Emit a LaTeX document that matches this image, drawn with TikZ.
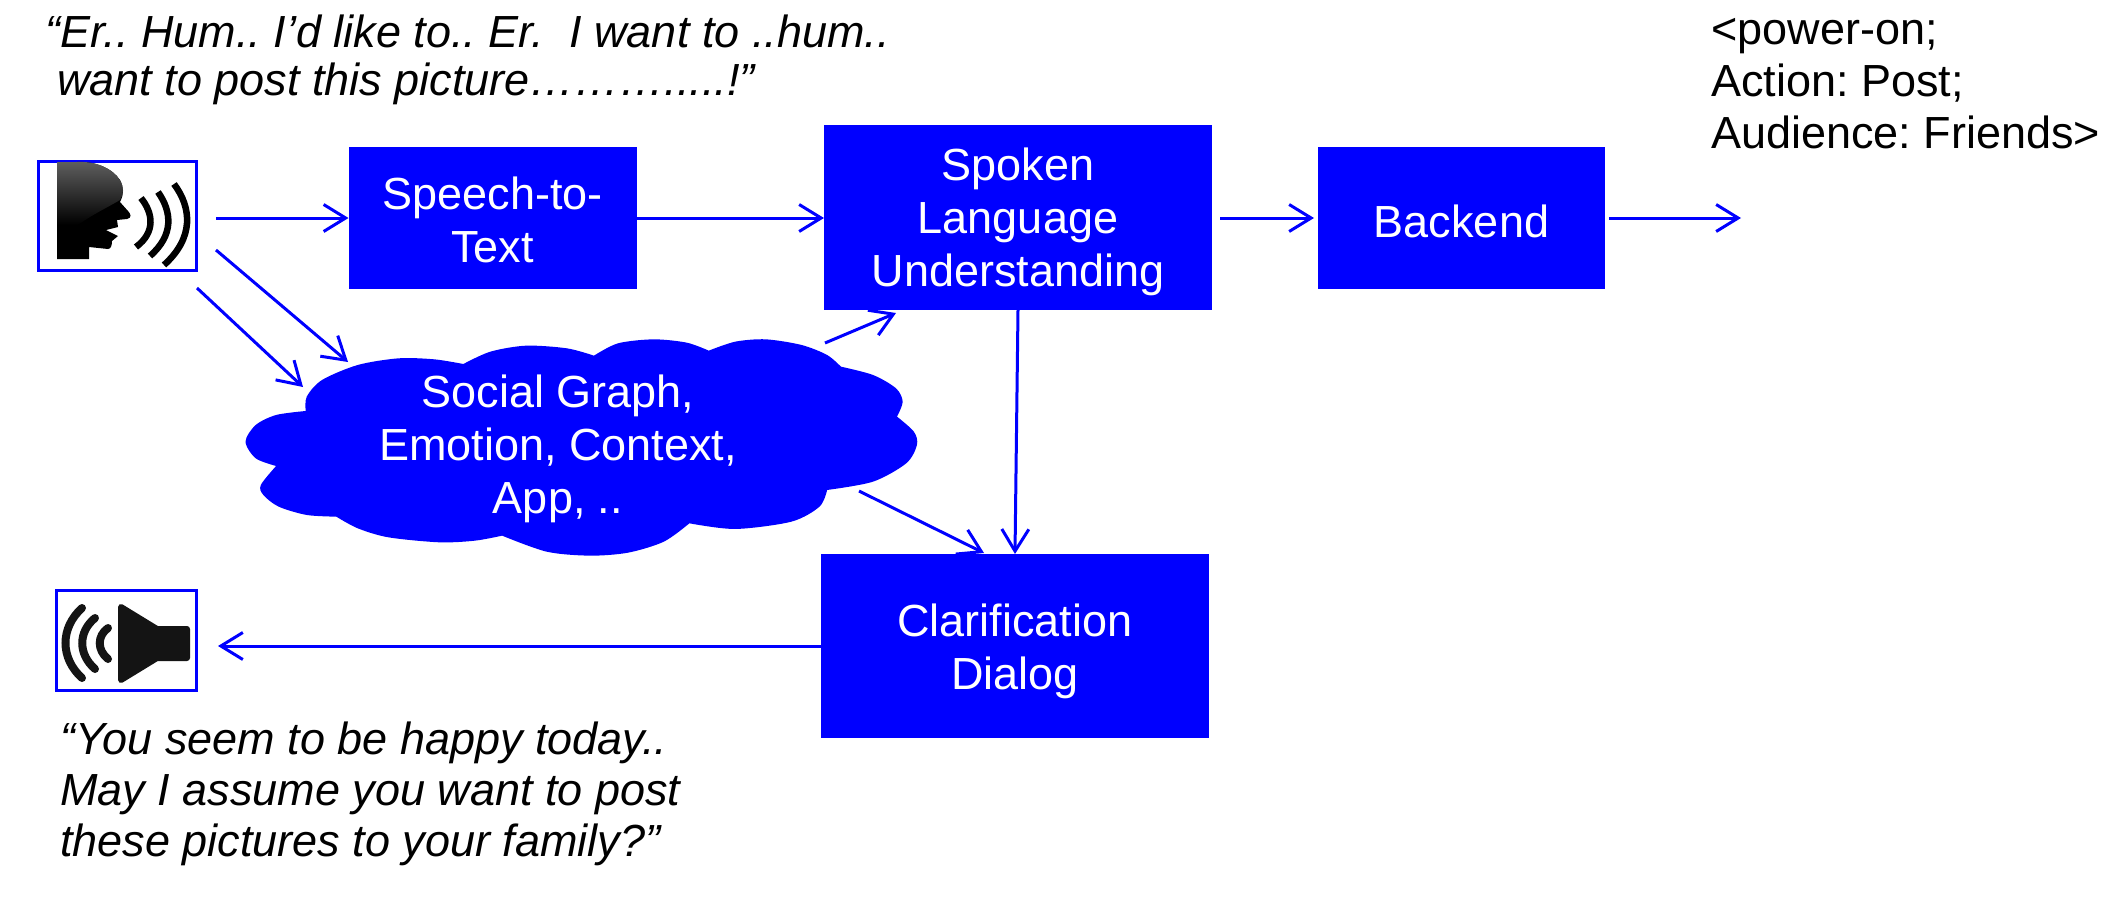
\documentclass[tikz,border=0pt]{standalone}
\usepackage{fontspec}
\setmainfont{Liberation Sans}
\usetikzlibrary{arrows.meta,calc}
\definecolor{bl}{RGB}{0,0,255}
\newcommand{\dn}[1]{\rule{0pt}{\dimexpr34pt+2\dimexpr#1pt\relax\relax}}
\tikzset{
  x=1pt,y=-1pt,
  every node/.style={font=\fontsize{45}{53}\selectfont\frenchspacing},
  blockbox/.style={fill=bl,text=white,align=center,inner sep=0pt,outer sep=0pt},
  iconbox/.style={draw=bl,line width=3pt,fill=white,inner sep=0pt,outer sep=1.5pt},
  conn/.style={draw=bl,line width=3pt,-{Straight Barb[length=22pt,width=27pt,line width=3pt]}},
  quote/.style={anchor=north west,align=left,inner sep=0pt,font=\fontsize{45}{47.5}\selectfont\itshape\frenchspacing},
  quotetwo/.style={anchor=north west,align=left,inner sep=0pt,font=\fontsize{45}{51}\selectfont\itshape\frenchspacing},
  plain/.style={anchor=north west,align=left,inner sep=0pt,font=\fontsize{45}{52}\selectfont\frenchspacing},
  wave/.style={draw=black,line width=6.5pt},
  wavetwo/.style={draw=black!92,line width=8pt,line cap=round},
}
\begin{document}
\begin{tikzpicture}
\useasboundingbox (0,0) rectangle (2128,897);
% blocks
\node[blockbox,minimum width=288pt,minimum height=142pt] (stt) at (492.5,218) {\dn{1.5}Speech-to-\\Text};
\node[blockbox,minimum width=388pt,minimum height=185pt] (slu) at (1018,217.5) {\dn{4}Spoken\\Language\\Understanding};
\node[blockbox,minimum width=287pt,minimum height=142pt] (be) at (1461.5,218) {\dn{2.5}Backend};
\node[blockbox,minimum width=388pt,minimum height=184pt] (cd) at (1015,646) {\dn{5}Clarification\\Dialog};
% icon frames
\node[iconbox,minimum width=158pt,minimum height=109pt] (talk) at (117.5,216) {};
\node[iconbox,minimum width=140pt,minimum height=100pt] (spk) at (126.5,640.5) {};
% talking head
\path[fill=black] (57,162) -- (57,259) -- (89,259) -- (89,247) -- (108,249)
  .. controls (111,249) and (112,245) .. (112,241) -- (118,236) -- (106,230) -- (118,227)
  -- (117,220) -- (127,219) .. controls (132,218) and (131,214) .. (128,211) -- (120,202)
  .. controls (124,194) and (124,188) .. (120,180) .. controls (112,168) and (95,161) .. (77,162) -- cycle;
\begin{scope}
\clip (57,162) -- (57,245) .. controls (75,222) and (100,212) .. (120,200)
  .. controls (124,194) and (124,188) .. (120,180) .. controls (112,168) and (95,161) .. (77,162) -- cycle;
\shade[top color=black!62,bottom color=black] (55,160) rectangle (125,225);
\end{scope}
\draw[wave] (141,198) .. controls (153,213) and (156,232) .. (136,247);
\draw[wave] (158,192) .. controls (172,212) and (174,235) .. (150,256);
\draw[wave] (174,184) .. controls (192,208) and (194,238) .. (164,265);
% loudspeaker
\path[fill=black!92,draw=black!92,line width=6pt,line join=round]
  (121,607) -- (157,629) -- (187,629) -- (187,658) -- (157,658) -- (121,680) -- cycle;
\draw[wavetwo] (82,608) .. controls (60,628) and (60,658) .. (82,678);
\draw[wavetwo] (95,618) .. controls (78,632) and (78,654) .. (95,669);
\draw[wavetwo] (108,628) .. controls (97,636) and (97,650) .. (108,659);
% cloud
\begin{scope}[shift={(220,300)},x=0.5102pt,y=-0.3333pt]
\path[fill=bl]
  plot[smooth] coordinates {(168,333) (170,290) (200,240) (270,195) (350,175) (420,178) (477,192)}
  -- plot[smooth] coordinates {(477,192) (530,155) (600,137) (680,145) (733,167)}
  -- plot[smooth] coordinates {(733,167) (780,130) (850,118) (915,128) (958,152)}
  -- plot[smooth] coordinates {(958,152) (1010,125) (1070,118) (1140,135) (1190,165) (1217,200)}
  -- plot[smooth] coordinates {(1217,200) (1280,225) (1325,265) (1338,305) (1327,350)}
  -- plot[smooth] coordinates {(1327,350) (1360,395) (1366,435) (1345,490) (1280,545) (1190,570)}
  -- plot[smooth] coordinates {(1190,570) (1175,620) (1120,665) (1010,687) (920,670)}
  -- plot[smooth] coordinates {(920,670) (870,725) (800,758) (725,767) (640,755) (553,707)}
  -- plot[smooth] coordinates {(553,707) (500,722) (430,727) (330,712) (270,685) (228,650)}
  -- plot[smooth] coordinates {(228,650) (170,645) (115,620) (85,585) (80,555) (110,498)}
  -- plot[smooth] coordinates {(110,498) (70,475) (50,425) (70,375) (110,345) (168,333)}
  -- cycle;
\end{scope}
\node[blockbox,fill=none,minimum width=672pt,minimum height=217pt] (cloud) at (558,446) {\dn{2.5}Social Graph,\\Emotion, Context,\\App, ..};
% free ends of connectors
\coordinate (ta) at (216,250);
\coordinate (tb) at (197,288);
\coordinate (ca) at (348,362);
\coordinate (cb) at (303,387);
\coordinate (cc) at (825,343);
\coordinate (cd1) at (896,313);
\coordinate (ce) at (859,491);
\coordinate (cf) at (984,553);
\coordinate (out) at (1741,218);
% connectors
\draw[conn,shorten <=18pt] (talk.east |- stt.west) -- (stt.west);
\draw[conn] (ta) -- (ca);
\draw[conn] (tb) -- (cb);
\draw[conn] (stt.east) -- (slu.west |- stt.east);
\draw[conn,shorten <=8pt,shorten >=4pt] (slu.east |- be.west) -- (be.west);
\draw[conn,shorten <=4pt] (be.east) -- (out);
\draw[conn] (cc) -- (cd1);
\draw[conn] (ce) -- (cf);
\draw[conn] (slu.south) -- (cd.north);
\draw[conn,shorten >=20pt] (cd.west) -- (spk.east |- cd.west);
% texts
\node[quote] (q1) at (45,15) {“Er.. Hum.. I’d like to.. Er.\ \ I want to ..hum..\\\hspace*{12pt}want to post this picture……….....!”};
\node[quotetwo] (q2) at (60,722) {“You seem to be happy today..\\May I assume you want to post\\these pictures to your family?”};
\node[plain] (res) at (1711,18) {<power-on;\\Action: Post;\\Audience: Friends>};
\end{tikzpicture}
\end{document}
